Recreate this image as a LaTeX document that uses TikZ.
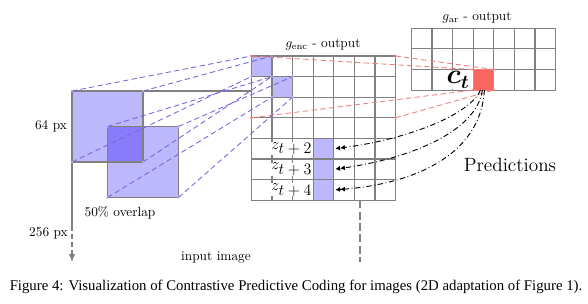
\documentclass[tikz,border=0pt]{standalone}
\usepackage{amsmath}
\usepackage{bm}
\usepackage{fontspec}
\newfontfamily\captionfont{Liberation Serif}
\usetikzlibrary{
  positioning,
  calc,
  arrows.meta
}
\definecolor{patchfill}{HTML}{BDB7FB}
\definecolor{overlapfill}{HTML}{8A7BFA}
\definecolor{gridgray}{HTML}{808080}
\definecolor{linkblue}{HTML}{7467E0}
\definecolor{linkred}{HTML}{EE7F7F}
\definecolor{ctfill}{HTML}{F9665F}

\begin{document}
\begin{tikzpicture}[x=0.75pt,y=-0.75pt,
    gline/.style={draw=gridgray, line width=0.9pt},
    pbox/.style={minimum size=53.25pt, inner sep=0pt, outer sep=0pt, fill=patchfill},
    cell/.style={minimum size=15.45pt, inner sep=0pt, outer sep=0pt},
    bluelink/.style={draw=linkblue, line width=0.65pt, dash pattern=on 4pt off 2.5pt},
    redlink/.style={draw=linkred, line width=0.65pt, dash pattern=on 4pt off 2.5pt},
    predline/.style={line width=0.7pt, dash pattern=on 4pt off 2pt on 0.6pt off 2pt,
                     shorten >=1.2pt,
                     -{Latex[length=3.6pt,width=3.8pt]Latex[length=3.6pt,width=3.8pt]}},
    cdot/.style={circle, inner sep=0pt, minimum size=2pt},
    zlab/.style={fill=white, inner xsep=0.5pt, inner ysep=0pt, font=\large},
  ]
  \useasboundingbox (0,0) rectangle (588,303);

  % input patches
  \node[pbox] (pa) at (107.5,126.5) {};
  \node[pbox] (pb) at (143,162) {};
  \fill[overlapfill] (pb.north west) rectangle (pa.south east);
  \draw[gline, line width=1.1pt] (pa.north west) rectangle (pa.south east);
  \draw[gline, line width=1.1pt] (pb.north west) rectangle (pb.south east);

  % g_enc grid
  \node[cell, fill=patchfill] (e00) at (261.6,66.3) {};
  \node[cell, fill=patchfill] (e11) at (282.2,86.9) {};
  \node[cell, fill=patchfill] (z2) at (323.4,148.7) {};
  \node[cell, fill=patchfill] (z3) at (323.4,169.3) {};
  \node[cell, fill=patchfill] (z4) at (323.4,189.9) {};
  \foreach \i in {0,...,7}{
    \draw[gline] (251.3+\i*20.6,56) -- (251.3+\i*20.6,200.2);
    \draw[gline] (251.3,56+\i*20.6) -- (395.5,56+\i*20.6);
  }
  \coordinate (encNE) at (395.5,56);
  \coordinate (encW3) at (251.3,117.8);
  \coordinate (encE3) at (395.5,117.8);

  % g_ar grid
  \node[cell, fill=ctfill] (ct) at (483.4,79.8) {};
  \foreach \i in {0,...,7}
    \draw[gline] (411.3+\i*20.6,28.3) -- (411.3+\i*20.6,90.1);
  \foreach \i in {0,...,3}
    \draw[gline] (411.3,28.3+\i*20.6) -- (555.5,28.3+\i*20.6);
  \draw[draw=linkred, line width=0.6pt] (ct.north west) rectangle (ct.south east);

  % input image edges
  \coordinate (dimA) at (72,226);
  \coordinate (dimB) at (72,262);
  \coordinate (encbot) at (360,200.2);
  \coordinate (encdown) at (360,262);
  \draw[gline] (pa.north west) -- (pa.north west -| e00.west);
  \draw[gline] (pa.north west) -- (dimA);
  \draw[gline, dash pattern=on 4pt off 2pt, -{Latex[length=6pt,width=5pt]}] (dimA) -- (dimB);
  \draw[gline, dash pattern=on 6pt off 2.5pt] (encbot) -- (encdown);

  % patch -> feature links
  \draw[bluelink] (pa.north west) -- (e00.north west);
  \draw[bluelink] (pa.north east) -- (e00.north east);
  \draw[bluelink] (pa.south west) -- (e00.south west);
  \draw[bluelink] (pa.south east) -- (e00.south east);
  \draw[bluelink] (pb.north west) -- (e11.north west);
  \draw[bluelink] (pb.north east) -- (e11.north east);
  \draw[bluelink] (pb.south west) -- (e11.south west);
  \draw[bluelink] (pb.south east) -- (e11.south east);
  \foreach \p in {pa.north west,pa.north east,pa.south west,pa.south east,
                  pb.north west,pb.north east,pb.south west,pb.south east,
                  e00.north west,e00.north east,e00.south west,e00.south east,
                  e11.north east,e11.south west,e11.south east}
    \node[cdot, fill=patchfill!80!linkblue] at (\p) {};

  % feature -> context links
  \draw[redlink] (e00.north west) -- (ct.north west);
  \draw[redlink] (encNE) -- (ct.north east);
  \draw[redlink] (encW3) -- (ct.south west);
  \draw[redlink] (encE3) -- (ct.south east);
  \foreach \p in {e00.north west,encNE,encW3,encE3,
                  ct.north west,ct.north east,ct.south west,ct.south east}
    \node[cdot, fill=linkred] at (\p) {};

  % labels
  \node[zlab, left=0pt of z2] (lz2) {$z_{\mbox{$t+2$}}$};
  \node[zlab, left=0pt of z3] (lz3) {$z_{\mbox{$t+3$}}$};
  \node[zlab, left=0pt of z4] (lz4) {$z_{\mbox{$t+4$}}$};
  \node[fill=white, inner sep=0.5pt, font=\fontsize{21}{24}\selectfont,
        left=2pt of ct] (lct) {$\bm{c_t}$};
  \node (genc) at (323,45) {$g_{\text{enc}}$ - output};
  \node (gar) at (477,18) {$g_{\text{ar}}$ - output};
  \node (l64) at (51,126.5) {64 px};
  \node (l256) at (48.5,233) {256 px};
  \node (lover) at (120,213) {50\% overlap};
  \node (limg) at (216,257) {input image};
  \node[font=\Large] (lpred) at (510,165) {Predictions};

  % predictions
  \draw[predline] ($(ct.south)+(-3,0)$) .. controls +(-10,25) and +(70,-8) .. (z2.east);
  \draw[predline] ($(ct.south)+(-1,0)$) .. controls +(-6,42) and +(75,-10) .. (z3.east);
  \draw[predline] ($(ct.south)+(1,0)$) .. controls +(-4,68) and +(75,-5) .. (z4.east);

  \node[font=\captionfont\fontsize{11.1}{13}\selectfont] (caption) at (296,287)
    {Figure 4: Visualization of Contrastive Predictive Coding for images (2D adaptation of Figure 1).};
\end{tikzpicture}
\end{document}
